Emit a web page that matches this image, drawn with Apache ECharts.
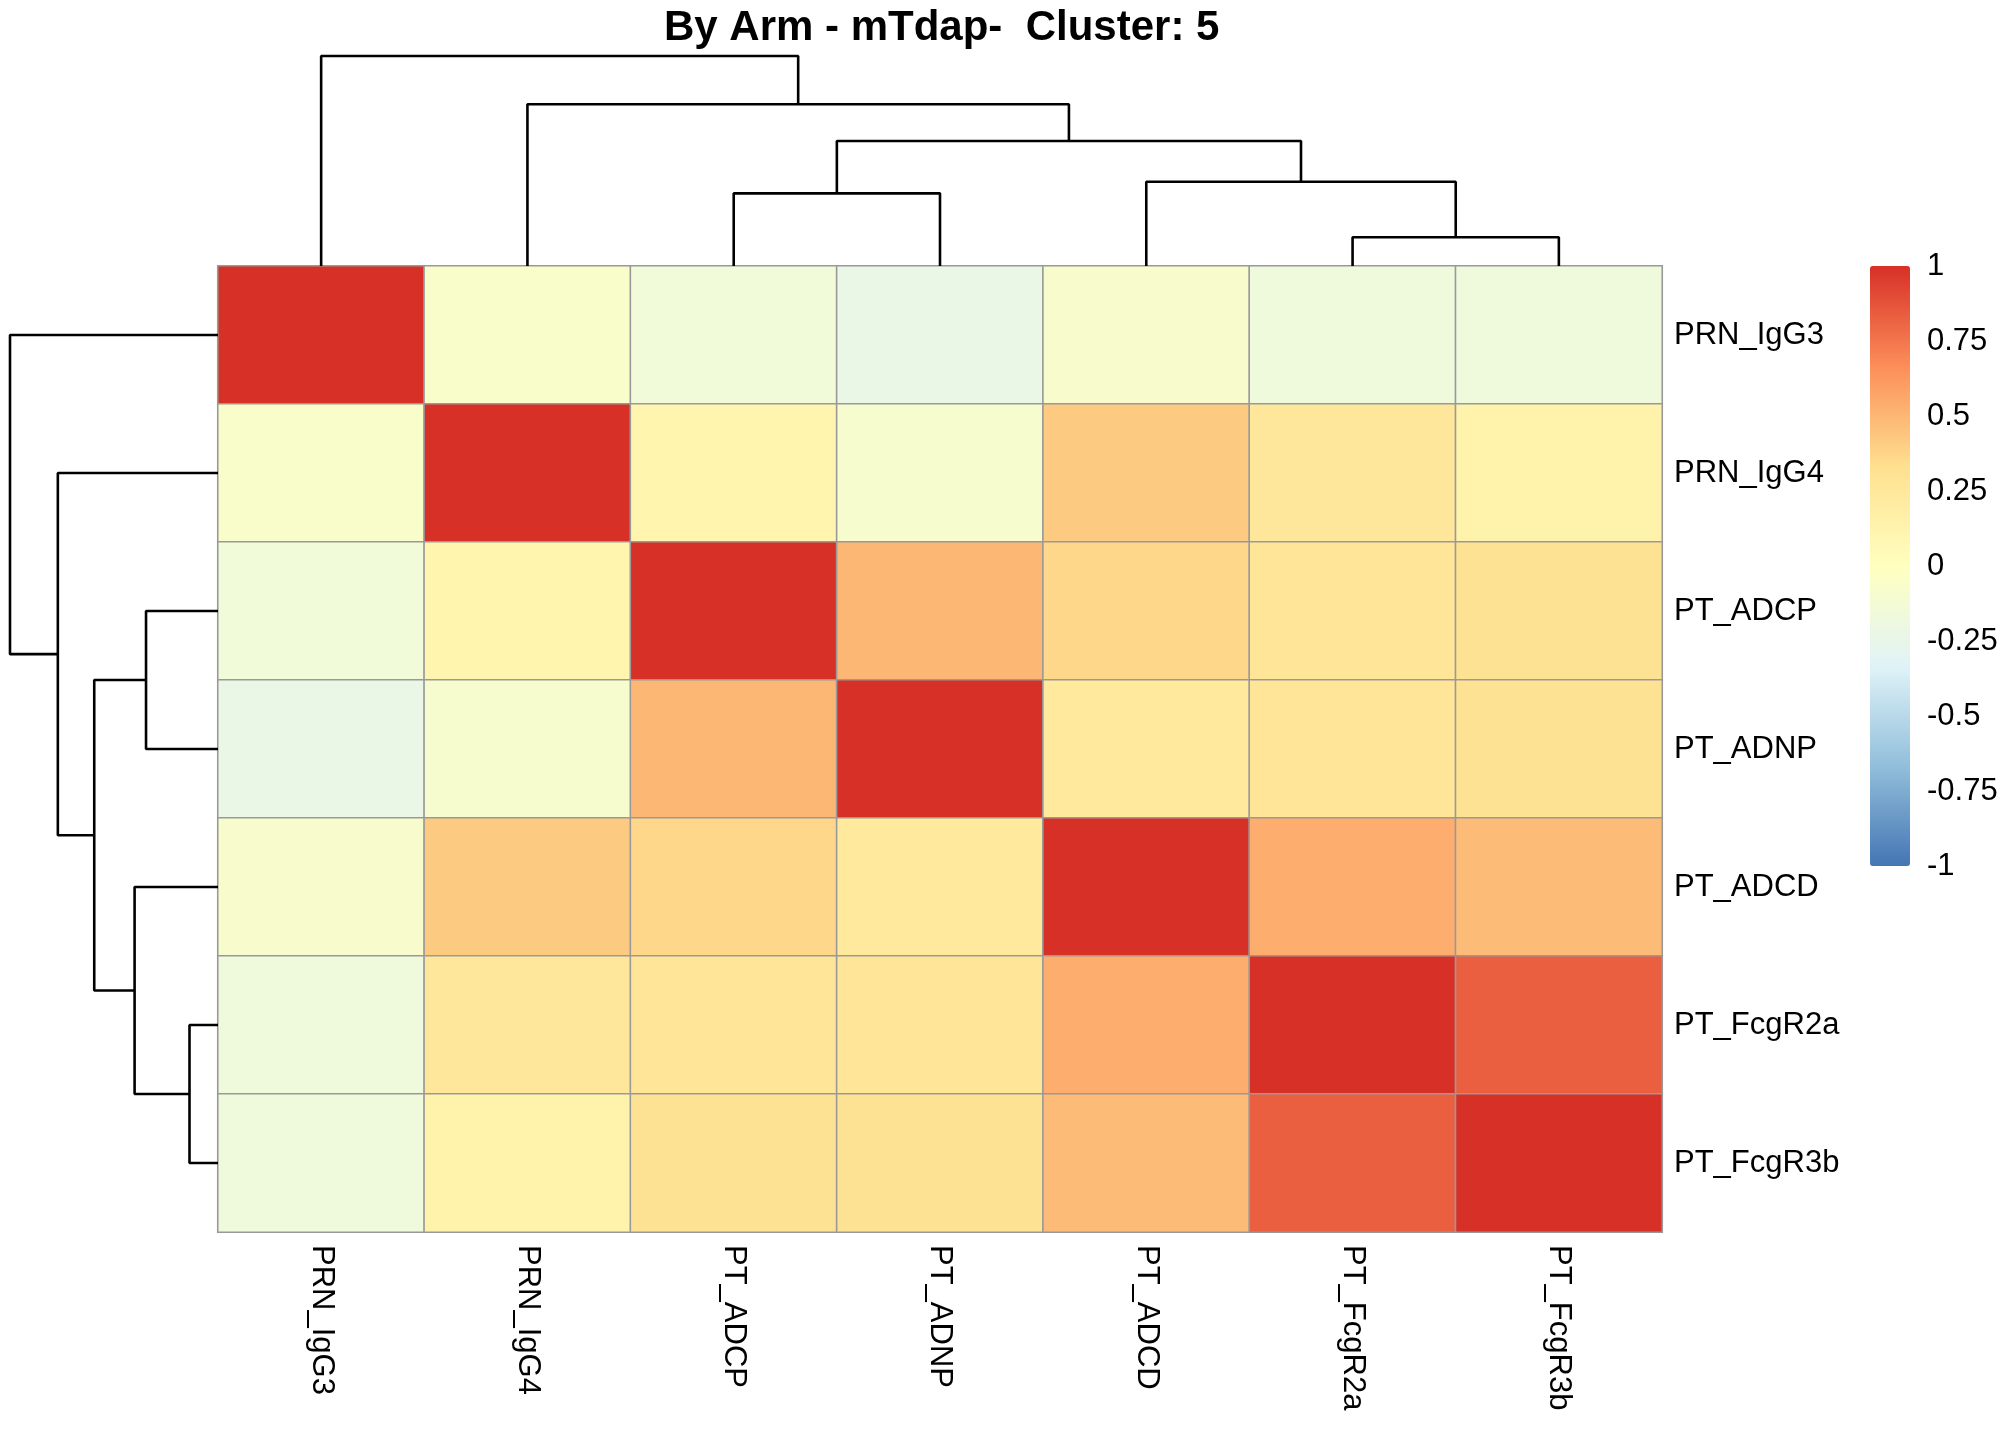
<!DOCTYPE html>
<html>
<head>
<meta charset="utf-8">
<script src="https://cdn.jsdelivr.net/npm/echarts@6/dist/echarts.min.js"></script>
<style>
html,body{margin:0;padding:0;background:#fff;}
#chart{width:2016px;height:1440px;}
</style>
</head>
<body>
<div id="chart"></div>
<script>
// ---- data ----
const titleText = 'By Arm - mTdap-  Cluster: 5';
const labels = ['PRN_IgG3', 'PRN_IgG4', 'PT_ADCP', 'PT_ADNP', 'PT_ADCD', 'PT_FcgR2a', 'PT_FcgR3b'];
const rowPRN_IgG3  = [1.00, -0.06, -0.15, -0.23, -0.08, -0.17, -0.17];
const rowPRN_IgG4  = [-0.06, 1.00, 0.11, -0.09, 0.42, 0.26, 0.14];
const rowPT_ADCP   = [-0.15, 0.11, 1.00, 0.50, 0.37, 0.28, 0.31];
const rowPT_ADNP   = [-0.23, -0.09, 0.50, 1.00, 0.24, 0.28, 0.31];
const rowPT_ADCD   = [-0.08, 0.42, 0.37, 0.24, 1.00, 0.54, 0.48];
const rowPT_FcgR2a = [-0.17, 0.26, 0.28, 0.28, 0.54, 1.00, 0.83];
const rowPT_FcgR3b = [-0.17, 0.14, 0.31, 0.31, 0.48, 0.83, 1.00];
const matrixRows = [rowPRN_IgG3, rowPRN_IgG4, rowPT_ADCP, rowPT_ADNP, rowPT_ADCD, rowPT_FcgR2a, rowPT_FcgR3b];
// hclust-style merges (negative = leaf in display order, positive = earlier merge) and heights (relative)
const treeMerges = [[-6, -7], [-3, -4], [-5, 1], [2, 3], [-2, 4], [-1, 5]];
const treeHeights = [0.137, 0.346, 0.401, 0.595, 0.770, 1.0];
const legendTicks = [-1, -0.75, -0.5, -0.25, 0, 0.25, 0.5, 0.75, 1];
const palette = ['#4575B4', '#91BFDB', '#E0F3F8', '#FFFFBF', '#FEE090', '#FC8D59', '#D73027'];

// ---- build ----
const heatData = [];
matrixRows.forEach((row, r) => row.forEach((v, c) => heatData.push([c, r, v])));

function treeSegments() {
  const pos = [], hgt = [], segs = [];
  treeMerges.forEach((m, i) => {
    const p = m.map(k => k < 0 ? (-k - 0.5) : pos[k - 1]);
    const ch = m.map(k => k < 0 ? 0 : hgt[k - 1]);
    const h = treeHeights[i];
    segs.push({p, ch, h});
    pos.push((p[0] + p[1]) / 2);
    hgt.push(h);
  });
  return segs;
}
const segs = treeSegments();
const font = 'Liberation Sans';
const lineStyle = {color: '#000', width: 2.6};

const series = [{
  type: 'heatmap', xAxisIndex: 0, yAxisIndex: 0, data: heatData,
  itemStyle: {borderColor: '#999999', borderWidth: 1.6},
  emphasis: {disabled: true}
}];
segs.forEach(s => {
  series.push({
    type: 'line', xAxisIndex: 1, yAxisIndex: 1, symbol: 'none', clip: false, silent: true,
    lineStyle: lineStyle, animation: false,
    data: [[s.p[0], s.ch[0]], [s.p[0], s.h], [s.p[1], s.h], [s.p[1], s.ch[1]]]
  });
  series.push({
    type: 'line', xAxisIndex: 2, yAxisIndex: 2, symbol: 'none', clip: false, silent: true,
    lineStyle: lineStyle, animation: false,
    data: [[s.ch[0], s.p[0]], [s.h, s.p[0]], [s.h, s.p[1]], [s.ch[1], s.p[1]]]
  });
});
series.push({type: 'scatter', xAxisIndex: 3, yAxisIndex: 3, data: []});

const hidden = {show: false};
const chart = echarts.init(document.getElementById('chart'), null, {renderer: 'canvas'});
chart.setOption({
  animation: false,
  backgroundColor: '#fff',
  textStyle: {fontFamily: font},
  graphic: [{
    type: 'text', left: 664, top: 7,
    style: {text: titleText, font: 'bold 42px "Liberation Sans"', fill: '#000'}
  }],
  grid: [
    {left: 218, top: 266, width: 1444, height: 966},
    {left: 218, top: 56, width: 1444, height: 210},
    {left: 10, top: 266, width: 208, height: 966},
    {left: 1870, top: 266, width: 40, height: 600}
  ],
  xAxis: [
    {type: 'category', gridIndex: 0, data: labels, position: 'bottom',
     axisLine: hidden, axisTick: hidden, splitLine: hidden,
     axisLabel: {rotate: -90, margin: 13, fontSize: 31, color: '#000', fontFamily: font}},
    {type: 'value', gridIndex: 1, min: 0, max: 7, show: false},
    {type: 'value', gridIndex: 2, min: 0, max: 1, inverse: true, show: false},
    {type: 'category', gridIndex: 3, data: [''], show: false}
  ],
  yAxis: [
    {type: 'category', gridIndex: 0, data: labels, inverse: true, position: 'right',
     axisLine: hidden, axisTick: hidden, splitLine: hidden,
     axisLabel: {margin: 12, fontSize: 31, color: '#000', fontFamily: font}},
    {type: 'value', gridIndex: 1, min: 0, max: 1, show: false},
    {type: 'value', gridIndex: 2, min: 0, max: 7, inverse: true, show: false},
    {type: 'value', gridIndex: 3, min: -1, max: 1, interval: 0.25, position: 'right',
     axisLine: hidden, axisTick: hidden, splitLine: hidden,
     axisLabel: {margin: 17, fontSize: 31, color: '#000', fontFamily: font,
                 formatter: v => legendTicks.includes(v) ? String(v) : ''}}
  ],
  visualMap: {
    type: 'continuous', min: -1, max: 1, seriesIndex: 0, show: true, calculable: false,
    left: 1870, top: 266, itemWidth: 40, itemHeight: 600, padding: 0,
    inRange: {color: palette}, text: null, showLabel: false, hoverLink: false
  },
  series: series
});
</script>
</body>
</html>
